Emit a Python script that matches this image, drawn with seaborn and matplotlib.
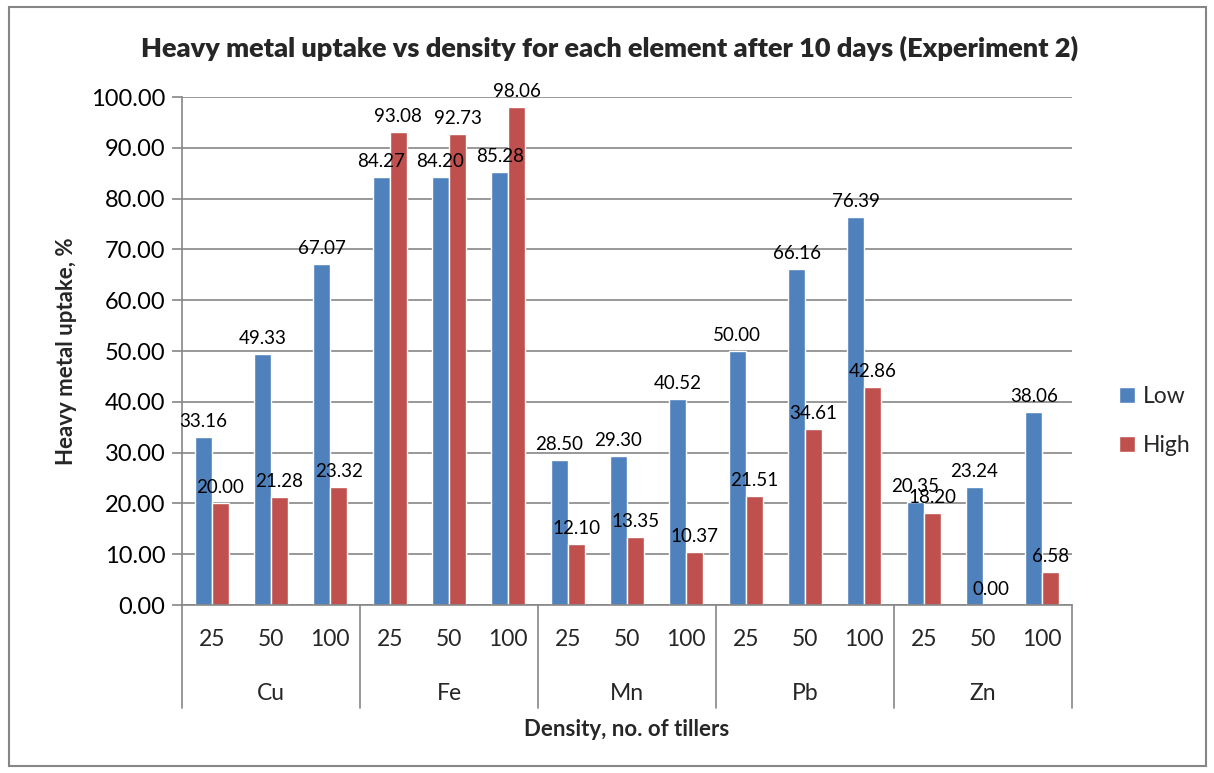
import pandas as pd
import matplotlib
matplotlib.use("Agg")
import matplotlib.pyplot as plt
import matplotlib.transforms as mtransforms
from matplotlib.patches import Rectangle
import seaborn as sns

# data
elements = ["Cu", "Fe", "Mn", "Pb", "Zn"]
densities = ["25", "50", "100"]
low_uptake = [33.16, 49.33, 67.07, 84.27, 84.20, 85.28, 28.50, 29.30, 40.52,
              50.00, 66.16, 76.39, 20.35, 23.24, 38.06]
high_uptake = [20.00, 21.28, 23.32, 93.08, 92.73, 98.06, 12.10, 13.35, 10.37,
               21.51, 34.61, 42.86, 18.20, 0.00, 6.58]
y_ticks = [0, 10, 20, 30, 40, 50, 60, 70, 80, 90, 100]

sns.set_theme(style="white")
plt.rcParams["font.family"] = ["Lato", "DejaVu Sans"]

keys = [f"{e}-{d}" for e in elements for d in densities]
df = pd.DataFrame({
    "key": keys * 2,
    "uptake": low_uptake + high_uptake,
    "level": ["Low"] * len(keys) + ["High"] * len(keys),
})

fig = plt.figure(figsize=(12.14, 7.73), dpi=100)
ax = fig.add_axes([182 / 1214, 1 - 605 / 773, (1072 - 182) / 1214, (605 - 97) / 773])

palette = {"Low": "#4F81BD", "High": "#C0504D"}
sns.barplot(data=df, x="key", y="uptake", hue="level", order=keys,
            hue_order=["Low", "High"], palette=palette, width=0.57,
            saturation=1, ax=ax, legend=True)

ax.set_xlim(-0.5, len(keys) - 0.5)
ax.set_ylim(0, 100)
ax.set_yticks(y_ticks)
ax.set_yticklabels([f"{t:.2f}" for t in y_ticks], fontsize=17, color="black")
ax.yaxis.grid(True, color="#868686", linewidth=1.2)
ax.set_axisbelow(True)
ax.tick_params(axis="y", length=7, width=1.2, color="#868686", pad=5, left=True)
ax.set_xticks([])
ax.set_xlabel("")
ax.set_ylabel("Heavy metal uptake, %", fontsize=16, fontweight="bold", labelpad=10)
for side in ["top", "right"]:
    ax.spines[side].set_visible(False)
ax.spines["left"].set_color("#868686")
ax.spines["left"].set_linewidth(1.2)
ax.spines["bottom"].set_color("#868686")
ax.spines["bottom"].set_linewidth(1.2)

for cont in ax.containers:
    ax.bar_label(cont, fmt="%.2f", fontsize=13.5, padding=5, color="black")

# two-level category axis
trans = mtransforms.blended_transform_factory(ax.transData, ax.transAxes)
sep_depth = (708 - 605) / (605 - 97)
for i in range(len(elements) + 1):
    xpos = i * len(densities) - 0.5
    ax.plot([xpos, xpos], [0, -sep_depth], color="#868686", lw=1.2,
            transform=trans, clip_on=False)
for i, k in enumerate(keys):
    ax.text(i, -35 / 508, k.split("-")[1], transform=trans, ha="center",
            va="center", fontsize=16.5)
for j, e in enumerate(elements):
    ax.text(j * len(densities) + 1, -88 / 508, e, transform=trans, ha="center",
            va="center", fontsize=16.5)

fig.text(627 / 1214, 1 - 730 / 773, "Density, no. of tillers", ha="center",
         va="center", fontsize=16, fontweight="bold")
fig.text(0.502, 1 - 48 / 773,
         "Heavy metal uptake vs density for each element after 10 days (Experiment 2)",
         ha="center", va="center", fontsize=19.5, fontweight="heavy")

handles, labels = ax.get_legend_handles_labels()
ax.get_legend().remove()
fig.legend(handles, labels, loc="center left", bbox_to_anchor=(1098 / 1214, 1 - 421 / 773),
           frameon=False, fontsize=16.5, handlelength=0.7, handleheight=0.7,
           handletextpad=0.35, labelspacing=1.2)

fig.patches.append(Rectangle((9 / 1214, 7 / 773), 1197 / 1214, 759 / 773,
                             transform=fig.transFigure, fill=False,
                             edgecolor="#868686", linewidth=1.5))

fig.savefig("out.png", dpi=100)
